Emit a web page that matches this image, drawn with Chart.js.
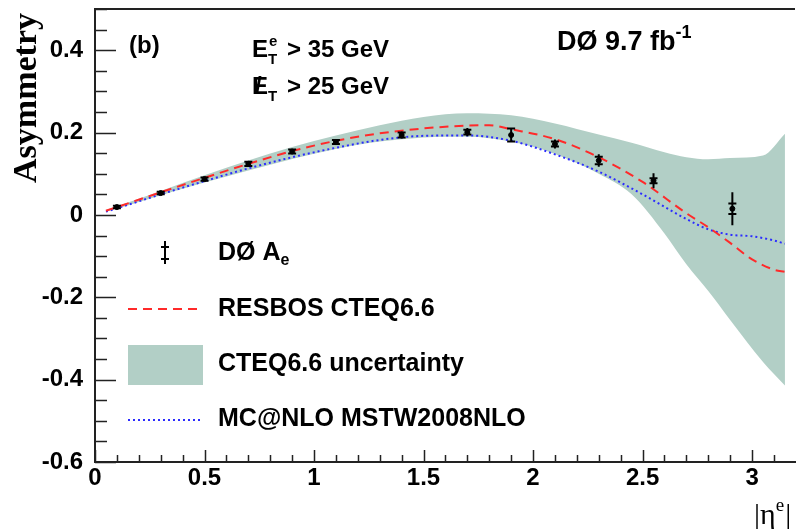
<!DOCTYPE html>
<html>
<head>
<meta charset="utf-8">
<script src="https://cdn.jsdelivr.net/npm/chart.js@4.4.1/dist/chart.umd.min.js"></script>
<style>
  html, body { margin: 0; padding: 0; background: #fff; }
  #wrap { width: 800px; height: 529px; }
</style>
</head>
<body>
<div id="wrap"><canvas id="chart" width="800" height="529"></canvas></div>
<script>
// tick labels
const xTicks = [0, 0.5, 1, 1.5, 2, 2.5, 3];
const yTicks = [-0.6, -0.4, -0.2, 0, 0.2, 0.4];

// D0 electron charge asymmetry
const aeX    = [0.1, 0.3, 0.5, 0.7, 0.9, 1.1, 1.4, 1.7, 1.9, 2.1, 2.3, 2.55, 2.91];
const aeVal  = [0.019, 0.053, 0.087, 0.124, 0.154, 0.177, 0.194, 0.201, 0.194, 0.172, 0.132, 0.083, 0.015];
const aeTot  = [0.004, 0.004, 0.005, 0.007, 0.007, 0.007, 0.009, 0.010, 0.016, 0.011, 0.015, 0.018, 0.040];
const aeStat = [0.003, 0.003, 0.004, 0.005, 0.005, 0.005, 0.006, 0.006, 0.016, 0.006, 0.009, 0.006, 0.013];

// RESBOS CTEQ6.6 prediction
const resbosX = [0.05, 0.1, 0.3, 0.5, 0.7, 0.9, 1.1, 1.3, 1.5, 1.7, 1.8, 1.9, 2.1, 2.3, 2.5, 2.7, 2.8, 2.9, 3.0, 3.1, 3.15];
const resbosY = [0.01, 0.019, 0.055, 0.09, 0.124, 0.155, 0.18, 0.198, 0.21, 0.217, 0.218, 0.208, 0.184, 0.14, 0.08, 0.004, -0.03, -0.068, -0.108, -0.133, -0.138];

// MC@NLO MSTW2008NLO prediction
const mcnloX = [0.05, 0.1, 0.3, 0.5, 0.7, 0.9, 1.1, 1.3, 1.5, 1.7, 1.9, 2.1, 2.3, 2.5, 2.7, 2.8, 2.9, 3.0, 3.1, 3.15];
const mcnloY = [0.008, 0.016, 0.05, 0.082, 0.113, 0.14, 0.163, 0.182, 0.192, 0.193, 0.18, 0.147, 0.105, 0.05, -0.01, -0.035, -0.048, -0.052, -0.062, -0.07];

// CTEQ6.6 uncertainty band
const bandX   = [0.05, 0.1, 0.3, 0.5, 0.7, 0.9, 1.1, 1.3, 1.5, 1.7, 1.9, 2.1, 2.3, 2.45, 2.6, 2.7, 2.8, 2.9, 3.05, 3.15];
const bandUp  = [0.012, 0.021, 0.058, 0.096, 0.132, 0.165, 0.193, 0.218, 0.238, 0.247, 0.242, 0.222, 0.195, 0.175, 0.152, 0.14, 0.135, 0.138, 0.144, 0.197];
const bandLow = [0.008, 0.015, 0.048, 0.079, 0.108, 0.136, 0.16, 0.178, 0.188, 0.19, 0.178, 0.148, 0.1, 0.05, -0.045, -0.12, -0.185, -0.255, -0.357, -0.414];

const BAND = '#b2cfc6';
const RED = '#ff2a2a';
const BLUE = '#2b2bff';
const SANS = '"Liberation Sans", Arial, sans-serif';
const SERIF = '"Liberation Serif", "Times New Roman", serif';

const pts = (xs, ys) => xs.map((x, i) => ({ x: x, y: ys[i] }));

// draw a run of text pieces, some raised or lowered
function richText(ctx, parts, x, y, size) {
    let cx = x;
    parts.forEach(p => {
        const s = p.sub || p.sup ? Math.round(size * 0.65) : size;
        ctx.font = `bold ${s}px ${SANS}`;
        const dy = p.sub ? size * 0.3 : p.sup ? -size * 0.45 : 0;
        ctx.fillText(p.t, cx, y + dy);
        cx += ctx.measureText(p.t).width + (p.gap || 0);
    });
    return cx;
}

// inward ticks, top frame, error bars, legend and labels
const decorPlugin = {
    id: 'decor',
    afterDatasetsDraw(chart) {
        const ctx = chart.ctx;
        const xs = chart.scales.x, ys = chart.scales.y;

        // error bars
        ctx.save();
        ctx.strokeStyle = '#000';
        ctx.lineWidth = 2;
        aeX.forEach((x, i) => {
            const px = xs.getPixelForValue(x);
            const yHi = ys.getPixelForValue(aeVal[i] + aeTot[i]);
            const yLo = ys.getPixelForValue(aeVal[i] - aeTot[i]);
            ctx.beginPath();
            ctx.moveTo(px, yHi); ctx.lineTo(px, yLo);
            [aeVal[i] + aeStat[i], aeVal[i] - aeStat[i]].forEach(v => {
                const py = ys.getPixelForValue(v);
                ctx.moveTo(px - 4, py); ctx.lineTo(px + 4, py);
            });
            ctx.stroke();
        });
        ctx.restore();
    },
    afterDraw(chart) {
        const ctx = chart.ctx;
        const xs = chart.scales.x, ys = chart.scales.y;
        const area = chart.chartArea;
        ctx.save();
        ctx.strokeStyle = '#222';
        ctx.lineWidth = 2;

        // top frame
        ctx.beginPath();
        ctx.moveTo(area.left, area.top); ctx.lineTo(area.right, area.top);
        ctx.stroke();

        // y ticks
        ctx.beginPath();
        for (let k = 0; k <= 22; k++) {
            const v = -0.6 + k * 0.05;
            const py = Math.round(ys.getPixelForValue(v)) + 0.5;
            const len = k % 4 === 0 ? 21 : 12;
            ctx.moveTo(area.left, py); ctx.lineTo(area.left + len, py);
        }
        // x ticks
        for (let k = 0; k <= 31; k++) {
            const v = k * 0.1;
            const px = Math.round(xs.getPixelForValue(v)) + 0.5;
            const len = k % 5 === 0 ? 12 : 7;
            ctx.moveTo(px, area.bottom); ctx.lineTo(px, area.bottom - len);
        }
        ctx.lineWidth = 1.5;
        ctx.stroke();

        // legend
        ctx.fillStyle = '#000';
        ctx.textBaseline = 'middle';
        ctx.lineWidth = 2;
        ctx.strokeStyle = '#000';
        ctx.beginPath();
        ctx.moveTo(165, 241); ctx.lineTo(165, 264);
        ctx.moveTo(161, 247); ctx.lineTo(169, 247);
        ctx.moveTo(161, 259); ctx.lineTo(169, 259);
        ctx.stroke();
        richText(ctx, [{ t: 'DØ A' }, { t: 'e', sub: true }], 218, 253, 25);

        ctx.strokeStyle = RED;
        ctx.setLineDash([9, 6]);
        ctx.beginPath(); ctx.moveTo(128, 309); ctx.lineTo(202, 309); ctx.stroke();
        richText(ctx, [{ t: 'RESBOS CTEQ6.6' }], 218, 309, 25);

        ctx.setLineDash([]);
        ctx.fillStyle = BAND;
        ctx.fillRect(128, 345, 75, 40);
        ctx.fillStyle = '#000';
        richText(ctx, [{ t: 'CTEQ6.6 uncertainty' }], 218, 364, 25);

        ctx.strokeStyle = BLUE;
        ctx.setLineDash([2, 3]);
        ctx.beginPath(); ctx.moveTo(128, 420); ctx.lineTo(202, 420); ctx.stroke();
        ctx.setLineDash([]);
        richText(ctx, [{ t: 'MC@NLO MSTW2008NLO' }], 218, 419, 25);

        // annotations
        ctx.textBaseline = 'alphabetic';
        richText(ctx, [{ t: '(b)' }], 129, 53, 24);
        let cx = richText(ctx, [{ t: 'E' }], 252, 57, 24);
        ctx.font = `bold 15px ${SANS}`;
        ctx.fillText('e', cx + 1, 46);
        ctx.fillText('T', cx, 64);
        richText(ctx, [{ t: '> 35 GeV' }], cx + 19, 57, 24);
        cx = richText(ctx, [{ t: 'E' }], 252, 94, 24);
        richText(ctx, [{ t: '/' }], 255, 94, 24);
        ctx.font = `bold 15px ${SANS}`;
        ctx.fillText('T', cx, 101);
        richText(ctx, [{ t: '> 25 GeV' }], cx + 19, 94, 24);
        richText(ctx, [{ t: 'DØ 9.7 fb' }, { t: '-1', sup: true }], 557, 50, 27);

        // axis titles
        ctx.font = `bold 34px ${SERIF}`;
        ctx.save();
        ctx.translate(36, 98);
        ctx.rotate(-Math.PI / 2);
        ctx.textAlign = 'center';
        ctx.fillText('Asymmetry', 0, 0);
        ctx.restore();

        ctx.font = `30px ${SERIF}`;
        ctx.fillText('|η', 754, 524);
        let w = ctx.measureText('|η').width;
        ctx.font = `19px ${SERIF}`;
        ctx.fillText('e', 754 + w, 511);
        let w2 = ctx.measureText('e').width;
        ctx.font = `30px ${SERIF}`;
        ctx.fillText('|', 754 + w + w2 + 1, 524);
        ctx.restore();
    }
};

const ctx = document.getElementById('chart').getContext('2d');
new Chart(ctx, {
    type: 'scatter',
    data: {
        datasets: [
            {
                label: 'CTEQ6.6 uncertainty',
                data: pts(bandX, bandUp),
                showLine: true,
                borderWidth: 0,
                pointRadius: 0,
                backgroundColor: BAND,
                fill: '+1',
                cubicInterpolationMode: 'monotone',
                order: 5
            },
            {
                label: 'band low',
                data: pts(bandX, bandLow),
                showLine: true,
                borderWidth: 0,
                pointRadius: 0,
                fill: false,
                cubicInterpolationMode: 'monotone',
                order: 4
            },
            {
                label: 'MC@NLO MSTW2008NLO',
                data: pts(mcnloX, mcnloY),
                showLine: true,
                borderColor: BLUE,
                borderWidth: 2,
                borderDash: [2, 3],
                pointRadius: 0,
                fill: false,
                cubicInterpolationMode: 'monotone',
                order: 3
            },
            {
                label: 'RESBOS CTEQ6.6',
                data: pts(resbosX, resbosY),
                showLine: true,
                borderColor: RED,
                borderWidth: 2,
                borderDash: [9, 6],
                pointRadius: 0,
                fill: false,
                cubicInterpolationMode: 'monotone',
                order: 2
            },
            {
                label: 'DØ Ae',
                data: pts(aeX, aeVal),
                pointRadius: 2.5,
                pointBackgroundColor: '#000',
                pointBorderColor: '#000',
                order: 1
            }
        ]
    },
    options: {
        responsive: false,
        animation: false,
        events: [],
        layout: { padding: { top: 9, right: 0, left: 0, bottom: 0 } },
        plugins: {
            legend: { display: false },
            tooltip: { enabled: false }
        },
        scales: {
            x: {
                type: 'linear',
                min: 0,
                max: 3.196,
                afterBuildTicks: s => { s.ticks = xTicks.map(v => ({ value: v })); },
                afterFit: s => { s.height = 67; s.paddingLeft = 0; s.paddingRight = 0; },
                grid: { display: false, drawTicks: false },
                border: { display: true, color: '#222', width: 2 },
                ticks: {
                    color: '#000',
                    padding: 2,
                    maxRotation: 0,
                    font: { family: SANS, weight: 'bold', size: 24 },
                    callback: v => String(v)
                }
            },
            y: {
                type: 'linear',
                min: -0.6,
                max: 0.5,
                afterBuildTicks: s => { s.ticks = yTicks.map(v => ({ value: v })); },
                afterFit: s => { s.width = 95; s.paddingTop = 0; s.paddingBottom = 0; },
                grid: { display: false, drawTicks: false },
                border: { display: true, color: '#222', width: 2 },
                ticks: {
                    color: '#000',
                    padding: 12,
                    font: { family: SANS, weight: 'bold', size: 24 },
                    callback: v => v === 0 ? '0' : v.toFixed(1)
                }
            }
        }
    },
    plugins: [decorPlugin]
});
</script>
</body>
</html>
